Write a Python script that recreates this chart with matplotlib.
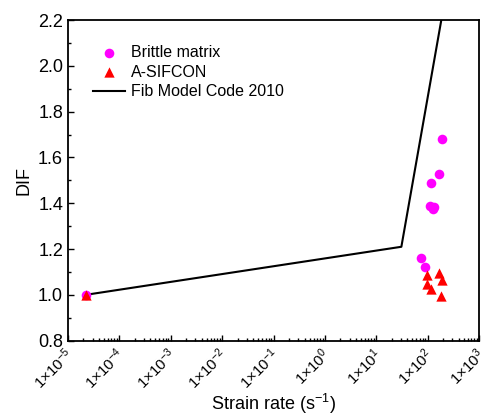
import numpy as np
import matplotlib
matplotlib.use("Agg")
import matplotlib.pyplot as plt
import matplotlib.transforms as mtransforms
from matplotlib.ticker import LogLocator, FixedLocator, MultipleLocator, FuncFormatter

plt.rcParams['font.family'] = ['Liberation Sans', 'DejaVu Sans']
plt.rcParams['mathtext.fontset'] = 'custom'
plt.rcParams['mathtext.rm'] = 'Liberation Sans'
plt.rcParams['mathtext.it'] = 'Liberation Sans'

# Brittle matrix
brittle_x = [2.2e-5, 190, 166, 114, 110, 132, 124, 75, 89]
brittle_y = [1.0, 1.68, 1.53, 1.49, 1.39, 1.385, 1.375, 1.16, 1.12]

# A-SIFCON
sifcon_x = [2.2e-5, 95, 162, 190, 98, 114, 178]
sifcon_y = [1.0, 1.087, 1.096, 1.066, 1.046, 1.026, 0.997]

# Fib Model Code 2010
fib_x = [2.2e-5, 30.6, 183]
fib_y = [1.0, 1.21, 2.2]

fig = plt.figure(figsize=(4.87, 4.19), dpi=100)
ax = fig.add_axes([0.1396, 0.187, 0.8444, 0.765])

ax.scatter(brittle_x, brittle_y, s=48, color='#FF00FF', marker='o', label='Brittle matrix', zorder=3, linewidths=0)
ax.scatter(sifcon_x, sifcon_y, s=55, color='#FF0000', marker='^', label='A-SIFCON', zorder=4, linewidths=0)
ax.plot(fib_x, fib_y, color='black', lw=1.5, label='Fib Model Code 2010', zorder=2)

ax.set_xscale('log')
ax.set_xlim(1e-5, 1e3)
ax.set_ylim(0.8, 2.2)

ax.xaxis.set_major_locator(FixedLocator([10.0**k for k in range(-5, 4)]))
ax.xaxis.set_minor_locator(LogLocator(base=10, subs=np.arange(2, 10), numticks=20))
ax.xaxis.set_major_formatter(FuncFormatter(lambda v, p: r'$1{\times}10^{%d}$' % int(round(np.log10(v)))))
ax.yaxis.set_major_locator(MultipleLocator(0.2))
ax.yaxis.set_minor_locator(MultipleLocator(0.1))
ax.yaxis.set_major_formatter(FuncFormatter(lambda v, p: '%.1f' % v))

ax.tick_params(which='both', direction='in', top=False, right=False, labelsize=13)
ax.tick_params(axis='x', labelsize=11, pad=3)
ax.tick_params(which='major', length=4, width=1)
ax.tick_params(which='minor', length=2, width=1)
shift = mtransforms.ScaledTranslation(-4 / 100, 0, fig.dpi_scale_trans)
for lab in ax.get_xticklabels():
    lab.set_rotation(45)
    lab.set_ha('right')
    lab.set_va('top')
    lab.set_rotation_mode('anchor')
    lab.set_transform(lab.get_transform() + shift)
for sp in ax.spines.values():
    sp.set_linewidth(1.3)

ax.set_xlabel(r'Strain rate (s$^{-1}$)', fontsize=13, labelpad=0)
ax.set_ylabel('DIF', fontsize=13)

ax.legend(loc='upper left', frameon=False, fontsize=11.5, bbox_to_anchor=(0.03, 0.963),
          handlelength=2.0, labelspacing=0.3, handletextpad=0.4, borderpad=0.3)

fig.savefig('out.png', dpi=100)
